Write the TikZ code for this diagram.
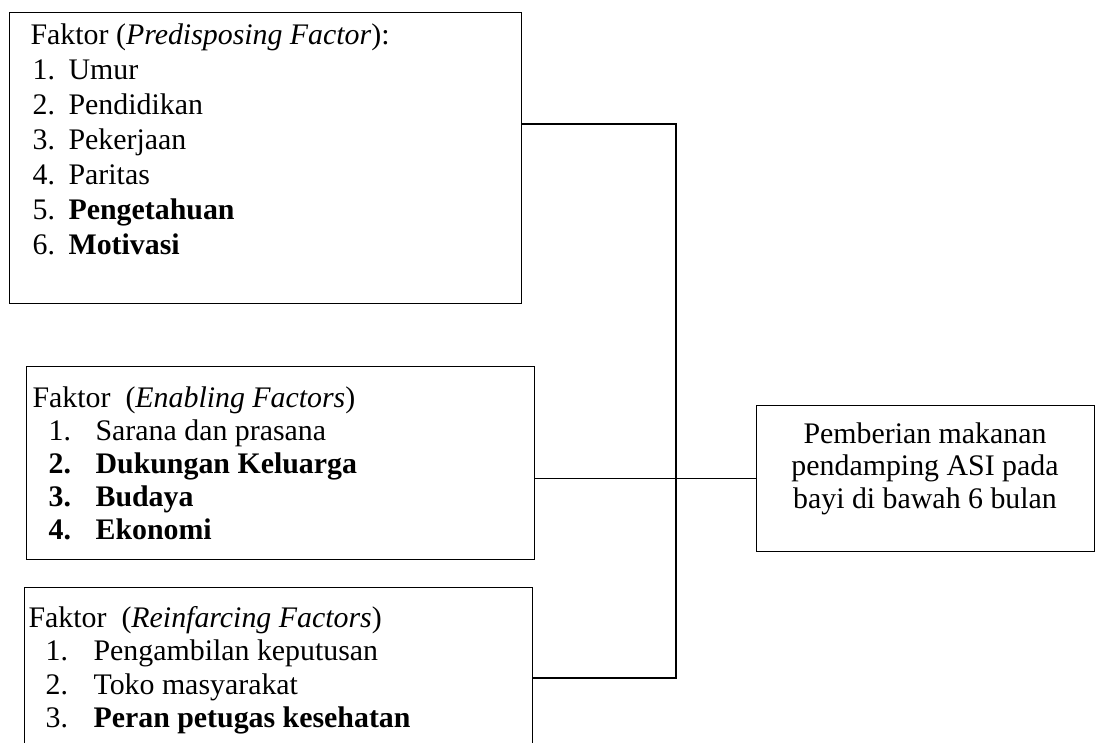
\documentclass[tikz,border=0pt]{standalone}
\usepackage{fontspec}
\setmainfont{Liberation Serif}
\usetikzlibrary{positioning}
\tikzset{
  box/.style={draw, anchor=north west, inner sep=0pt},
  txt/.style={anchor=base west, inner sep=0pt, font=\fontsize{17}{20}\selectfont},
  ctr/.style={anchor=base, inner sep=0pt, font=\fontsize{17}{20}\selectfont},
}
\newcommand{\nr}[2]{\makebox[#1][l]{#2}}
\begin{document}
\begin{tikzpicture}[x=0.02cm, y=-0.02cm, line width=0.7pt]
  \useasboundingbox (0,0) rectangle (1095,743);
  \node[box, minimum width=10.24cm, minimum height=5.82cm] (pre) at (9,12) {};
  \node[box, minimum width=10.16cm, minimum height=3.86cm] (ena) at (26,366) {};
  \node[box, minimum width=10.16cm, minimum height=3.6cm] (rei) at (24,587) {};
  \node[box, minimum width=6.76cm, minimum height=2.92cm] (asi) at (756,405) {};
  % predisposing
  \node[txt] (pre0) at (30,45) {Faktor (\textit{Predisposing Factor}):};
  \foreach \t [count=\i] in {Umur, Pendidikan, Pekerjaan, Paritas,
      \textbf{Pengetahuan}, \textbf{Motivasi}}
    \node[txt] (pre\i) at (32,{45+35*\i}) {\nr{0.72cm}{\i.}\t};
  % enabling
  \node[txt] (ena0) at (32,407) {Faktor\ \ (\textit{Enabling Factors})};
  \foreach \n/\t [count=\i] in {1./Sarana dan prasana,
      \textbf{2.}/\textbf{Dukungan Keluarga}, \textbf{3.}/\textbf{Budaya},
      \textbf{4.}/\textbf{Ekonomi}}
    \node[txt] (ena\i) at (48,{407+33*\i}) {\nr{0.94cm}{\n}\t};
  % reinforcing
  \node[txt] (rei0) at (28,627) {Faktor\ \ (\textit{Reinfarcing Factors})};
  \foreach \n/\t [count=\i] in {1./Pengambilan keputusan, 2./Toko masyarakat,
      3./\textbf{Peran petugas kesehatan}}
    \node[txt] (rei\i) at (45,{627+33.5*\i}) {\nr{0.96cm}{\n}\t};
  % outcome
  \foreach \t [count=\i] in {Pemberian makanan, pendamping ASI pada,
      bayi di bawah 6 bulan}
    \node[ctr] (asi\i) at (925,{410.5+32.5*\i}) {\t};
  \coordinate (top) at (676,124);
  \coordinate (bot) at (676,678);
  \begin{scope}[-]
    \draw (pre.east |- top) -- (top) -- (bot) -- (rei.east |- bot);
    \draw (ena.east |- asi.west) -- (asi.west);
  \end{scope}
\end{tikzpicture}
\end{document}
